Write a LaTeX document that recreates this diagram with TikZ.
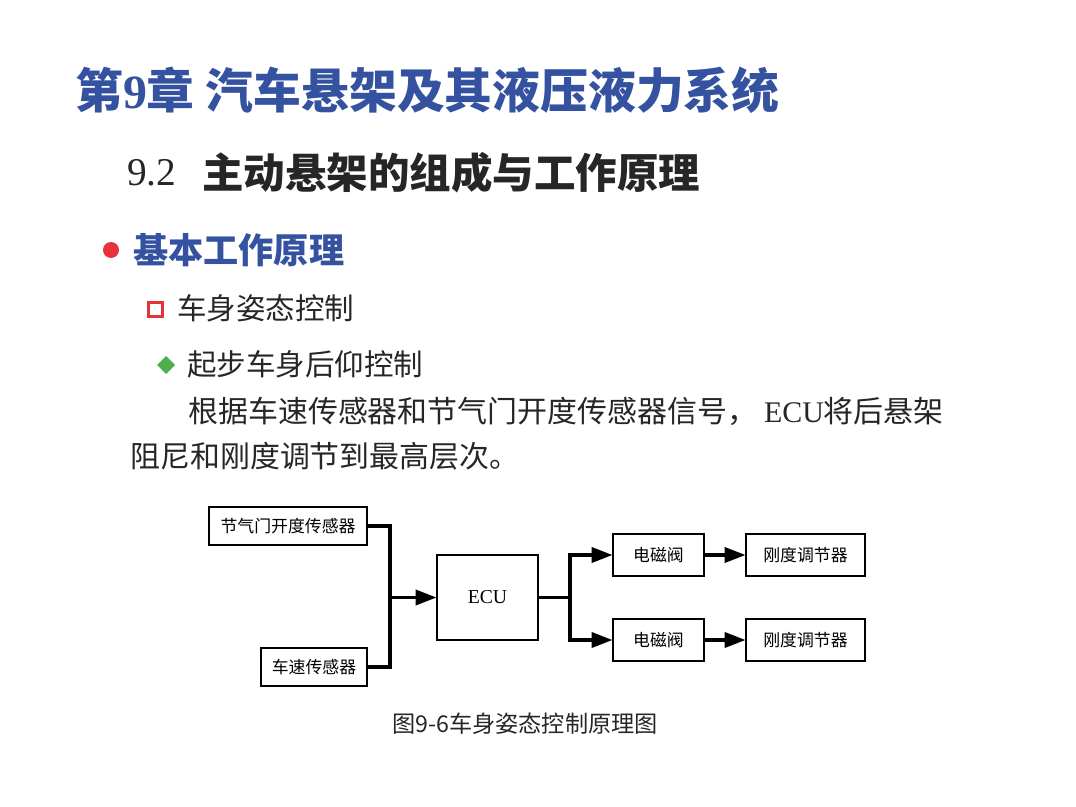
\documentclass[tikz,border=0pt]{standalone}
\usepackage{fontspec}
\setmainfont{Liberation Serif}
\newfontfamily\zh{Noto Sans CJK SC}
\usetikzlibrary{arrows.meta}
\definecolor{titleblue}{RGB}{52,82,160}
\definecolor{bulletred}{RGB}{230,50,58}
\definecolor{bulletgreen}{RGB}{76,176,80}
\tikzset{
    box/.style={draw, line width=0.8pt, inner sep=0pt, font=\zh\fontsize{12}{14}\selectfont},
    link/.style={line width=2.2pt},
    arr/.style={line width=2.2pt, -{Triangle[length=0.52cm,width=0.38cm]}},
    line/.style={anchor=west, inner sep=0pt, text=black!85}
}
\begin{document}
\begin{tikzpicture}[x=0.025cm, y=-0.025cm]
    \useasboundingbox (0,0) rectangle (1076,807);
    % Headings
    \node[anchor=west, inner sep=0pt, text=titleblue, font=\zh\bfseries\fontsize{34}{38}\selectfont]
        (title) at (75,90) {第{\rmfamily 9}章 汽车悬架及其液压液力系统};
    \node[line, font=\rmfamily\fontsize{28}{32}\selectfont] (sectno) at (127,173) {9.2};
    \node[line, font=\zh\bfseries\fontsize{29.5}{34}\selectfont]
        (sect) at (202,173) {主动悬架的组成与工作原理};
    \fill[bulletred] (111,250) circle (0.2cm);
    \node[line, text=titleblue, font=\zh\bfseries\fontsize{25}{29}\selectfont]
        (basic) at (133,250) {基本工作原理};
    \draw[bulletred, line width=2.6pt] (148.5,302.5) rectangle (162.5,316.5);
    \node[line, font=\zh\fontsize{21}{25}\selectfont] (attitude) at (177,308) {车身姿态控制};
    \fill[bulletgreen] (166,356) -- (175,365) -- (166,374) -- (157,365) -- cycle;
    \node[line, font=\zh\fontsize{21}{25}\selectfont] (squat) at (187,364) {起步车身后仰控制};
    \node[line, font=\zh\fontsize{21.3}{25}\selectfont] (body1) at (188,411)
        {根据车速传感器和节气门开度传感器信号， {\rmfamily ECU}将后悬架};
    \node[line, font=\zh\fontsize{21.3}{25}\selectfont] (body2) at (130,456)
        {阻尼和刚度调节到最高层次。};

    % Block diagram
    \node[box, minimum width=3.95cm, minimum height=0.95cm] (thr) at (288,526) {节气门开度传感器};
    \node[box, minimum width=2.65cm, minimum height=0.95cm] (spd) at (314,667) {车速传感器};
    \node[box, minimum width=2.525cm, minimum height=2.125cm, font=\rmfamily\fontsize{14}{16}\selectfont]
        (ecu) at (487.5,597.5) {ECU};
    \node[box, minimum width=2.275cm, minimum height=1.05cm] (sv1) at (658.5,555) {电磁阀};
    \node[box, minimum width=2.275cm, minimum height=1.05cm] (sv2) at (658.5,640) {电磁阀};
    \node[box, minimum width=2.975cm, minimum height=1.05cm] (st1) at (805.5,555) {刚度调节器};
    \node[box, minimum width=2.975cm, minimum height=1.05cm] (st2) at (805.5,640) {刚度调节器};
    \coordinate (jl) at (390,597.5);
    \coordinate (jr) at (570,597.5);
    \draw[link] (thr.east) -| (jl);
    \draw[link] (spd.east) -| (jl);
    \draw[arr] (jl) -- (ecu.west);
    \draw[link] (ecu.east) -- (jr);
    \draw[arr] (jr) |- (sv1.west);
    \draw[arr] (jr) |- (sv2.west);
    \draw[arr] (sv1.east) -- (st1.west);
    \draw[arr] (sv2.east) -- (st2.west);
    \node[inner sep=0pt, font=\zh\fontsize{16.5}{19}\selectfont, text=black!85]
        (caption) at (525,724) {图9-6车身姿态控制原理图};
\end{tikzpicture}
\end{document}
